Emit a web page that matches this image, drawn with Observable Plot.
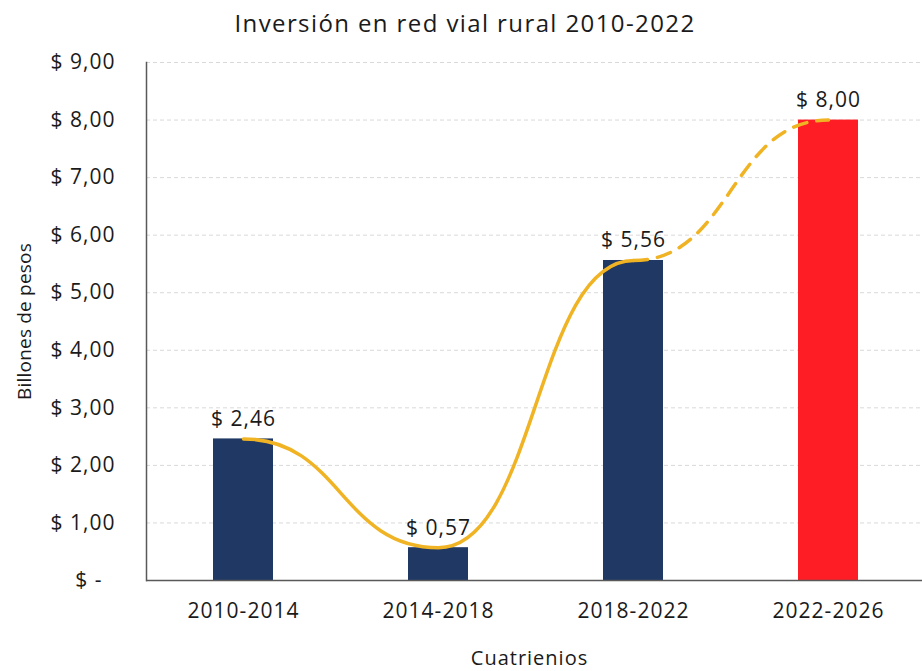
<!DOCTYPE html>
<html>
<head>
<meta charset="utf-8">
<script src="https://cdn.jsdelivr.net/npm/d3@7"></script>
<script src="https://cdn.jsdelivr.net/npm/@observablehq/plot@0.6"></script>
<style>
  html, body { margin: 0; padding: 0; background: #ffffff; }
  #wrap { width: 922px; height: 671px; position: relative; overflow: hidden; font-family: "Open Sans", sans-serif; }
  #title { height: 34px; padding-top: 11px; text-align: center; padding-left: 8px; box-sizing: content-box;
           font-size: 24px; line-height: 24px; letter-spacing: 1.4px; color: #1a1a1a; white-space: nowrap; font-weight: 500; }
  svg text { letter-spacing: 1px; font-weight: 500; }
  svg g.ylab text { letter-spacing: 0.2px; }
</style>
</head>
<body>
<div id="wrap">
  <div id="title">Inversión en red vial rural 2010-2022</div>
  <div id="chart"></div>
</div>
<script>
// Data
const periods = ["2010-2014", "2014-2018", "2018-2022", "2022-2026"];
const values = [2.46, 0.57, 5.56, 8.00];
const kinds = ["histórico", "histórico", "histórico", "meta"];
const yTicks = [0, 1, 2, 3, 4, 5, 6, 7, 8, 9];
const yLabel = "Billones de pesos";
const xLabel = "Cuatrienios";

const data = periods.map((p, i) => ({period: p, value: values[i], kind: kinds[i]}));
const solidPart = data.slice(0, 3);
const dashedPart = data.slice(2, 4);

const fmt = v => v.toFixed(2).replace(".", ",");
const tickFmt = d => d === 0 ? "$ -\u00a0\u00a0" : "$ " + fmt(d);

const textColor = "#1a1a1a";
const lineColor = "#f0b323";

const plot = Plot.plot({
  width: 922,
  height: 626,
  marginTop: 17,
  marginBottom: 91,
  marginLeft: 146,
  marginRight: 0,
  style: {fontFamily: "'Open Sans', sans-serif", color: textColor, background: "#ffffff"},
  x: {domain: periods, range: [145.5, 925.5], paddingInner: 0.69, paddingOuter: 0.345},
  y: {domain: [0, 9]},
  color: {domain: ["histórico", "meta"], range: ["#203864", "#ff1d25"]},
  marks: [
    Plot.gridY(yTicks.filter(d => d > 0), {stroke: "#d9d9d9", strokeOpacity: 1, strokeDasharray: "4,3", strokeWidth: 1}),
    Plot.barY(data, {x: "period", y: "value", fill: "kind"}),
    Plot.line(solidPart, {x: "period", y: "value", curve: "bump-x", stroke: lineColor, strokeWidth: 3.5}),
    Plot.line(dashedPart, {x: "period", y: "value", curve: "bump-x", stroke: lineColor, strokeWidth: 3.5, strokeDasharray: "14,10", strokeLinecap: "round"}),
    Plot.text(data, {x: "period", y: "value", text: d => "$ " + fmt(d.value), dy: -13, lineAnchor: "bottom", fontSize: 21, fill: textColor}),
    Plot.axisY({ticks: yTicks, tickFormat: tickFmt, tickSize: 0, tickPadding: 31, fontSize: 21, label: null, fill: textColor}),
    Plot.axisX({tickSize: 0, tickPadding: 23, fontSize: 21, label: null, fill: textColor}),
    Plot.ruleY([0], {stroke: "#595959", strokeWidth: 1.5}),
    Plot.frame({anchor: "left", stroke: "#595959", strokeWidth: 1.5}),
    Plot.text([yLabel], {frameAnchor: "left", textAnchor: "middle", lineAnchor: "middle", rotate: -90, dx: -122, fontSize: 19, fill: textColor, className: "ylab"}),
    Plot.text([xLabel], {frameAnchor: "bottom", textAnchor: "middle", lineAnchor: "middle", dy: 78, dx: -5, fontSize: 20, fill: textColor})
  ]
});
document.getElementById("chart").appendChild(plot);
</script>
</body>
</html>
